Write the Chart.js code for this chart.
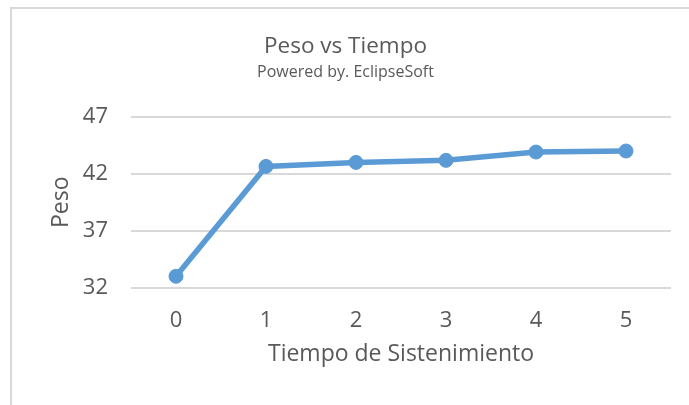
<!DOCTYPE html>
<html>
<head>
<meta charset="utf-8">
<script src="https://cdn.jsdelivr.net/npm/chart.js@4"></script>
<style>
  html, body { margin: 0; padding: 0; background: #fff; overflow: hidden; }
  #frame {
    position: absolute; left: 10px; top: 7px; width: 690px; height: 398px;
    border-top: 2px solid #d9d9d9; border-left: 2px solid #d9d9d9; box-sizing: border-box;
  }
  #wrap { position: absolute; left: 10px; top: 7px; width: 690px; height: 398px; }
</style>
</head>
<body>
<div id="frame"></div>
<div id="wrap"><canvas id="chart"></canvas></div>
<script>
const tiempos = ['0', '1', '2', '3', '4', '5'];
const pesos = [33.0, 42.64, 42.99, 43.17, 43.9, 43.99];
const yTicks = [32, 37, 42, 47];

const TEXT = '#595959';
const FONT = "'Open Sans', sans-serif";

new Chart(document.getElementById('chart'), {
  type: 'line',
  data: {
    labels: tiempos,
    datasets: [{
      label: 'Peso',
      data: pesos,
      borderColor: '#5B9BD5',
      backgroundColor: '#5B9BD5',
      borderWidth: 5.5,
      pointRadius: 7,
      pointBorderWidth: 1,
      tension: 0
    }]
  },
  options: {
    responsive: true,
    maintainAspectRatio: false,
    animation: false,
    layout: { padding: { left: 10, right: 29, top: 0, bottom: 0 } },
    plugins: {
      legend: { display: false },
      tooltip: { enabled: false },
      title: {
        display: true,
        text: 'Peso vs Tiempo',
        color: TEXT,
        font: { family: FONT, size: 22.5, weight: 'normal' },
        padding: { top: 26.5, bottom: 2 }
      },
      subtitle: {
        display: true,
        text: 'Powered by. EclipseSoft',
        color: TEXT,
        font: { family: FONT, size: 16, weight: 'normal' },
        padding: { top: 0, bottom: 35 }
      }
    },
    scales: {
      x: {
        offset: true,
        afterFit: scale => { scale.height = 117.3; },
        grid: { display: false, drawTicks: false },
        border: { display: false },
        ticks: { color: TEXT, font: { family: FONT, size: 22 }, padding: 20 },
        title: {
          display: true,
          text: 'Tiempo de Sistenimiento',
          color: TEXT,
          font: { family: FONT, size: 23 },
          padding: { top: 0, bottom: 37 }
        }
      },
      y: {
        min: 32,
        max: 47,
        afterBuildTicks: axis => { axis.ticks = yTicks.map(v => ({ value: v })); },
        afterFit: scale => { scale.width = 111; },
        grid: { color: '#d9d9d9', lineWidth: 2, drawTicks: false },
        border: { display: false },
        ticks: { color: TEXT, font: { family: FONT, size: 22 }, padding: 23 },
        title: {
          display: true,
          text: 'Peso',
          color: TEXT,
          font: { family: FONT, size: 23 },
          padding: { top: 28, bottom: 0 }
        }
      }
    }
  }
});
</script>
</body>
</html>
